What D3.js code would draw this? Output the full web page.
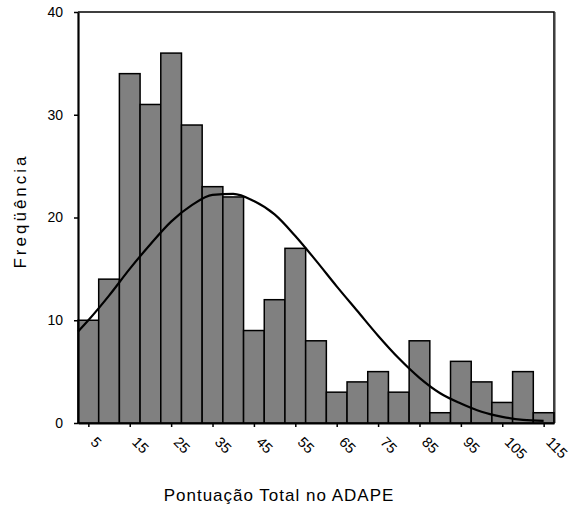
<!DOCTYPE html>
<html>
<head>
<meta charset="utf-8">
<script src="https://cdn.jsdelivr.net/npm/d3@7"></script>
<style>
    body { margin: 0; background: #fff; }
    text { font-family: "Liberation Sans", Arial, sans-serif; }
</style>
</head>
<body>
<div id="graph"></div>
<script>
// bin centres and counts
var binCenters = [5, 10, 15, 20, 25, 30, 35, 40, 45, 50, 55, 60, 65, 70, 75, 80, 85, 90, 95, 100, 105, 110, 115]
var counts = [10, 14, 34, 31, 36, 29, 23, 22, 9, 12, 17, 8, 3, 4, 5, 3, 8, 1, 6, 4, 2, 5, 1]

// normal curve, points
var curveX = [2.5, 5, 10, 15, 20, 25, 30, 35, 40, 45, 50, 55, 60, 65, 70, 75, 80, 85, 90, 95, 100, 105, 110, 115]
var curveY = [8.9, 10.0, 12.4, 15.0, 17.4, 19.6, 21.2, 22.2, 22.3, 21.6, 20.3, 18.2, 15.8, 13.3, 10.9, 8.5, 6.3, 4.4, 2.9, 1.9, 1.1, 0.6, 0.3, 0.2]

var xTicks = [5, 15, 25, 35, 45, 55, 65, 75, 85, 95, 105, 115]
var yTicks = [0, 10, 20, 30, 40]

var binWidth = 5
var xTitle = "Pontuação Total no ADAPE"
var yTitle = "Freqüência"

function draw()
{
    const width = 571, height = 506
    const plot = { left: 78, right: 554, top: 12, bottom: 423 }

    const svg = d3.select("#graph")
        .append("svg")
            .attr("width", width)
            .attr("height", height)

    const x = d3.scaleLinear().domain([2.5, 117.5]).range([plot.left, plot.right])
    const y = d3.scaleLinear().domain([0, 40]).range([plot.bottom, plot.top])

    // bars
    svg.append("g")
        .selectAll("rect")
        .data(binCenters)
        .enter().append("rect")
            .attr("x", (d) => x(d - binWidth / 2))
            .attr("width", (d) => x(d + binWidth / 2) - x(d - binWidth / 2))
            .attr("y", (d, i) => y(counts[i]))
            .attr("height", (d, i) => y(0) - y(counts[i]))
            .attr("fill", "#808080")
            .attr("stroke", "#000")
            .attr("stroke-width", 1.5)

    // fitted curve
    const line = d3.line().x(d => x(d[0])).y(d => y(d[1])).curve(d3.curveMonotoneX)
    svg.append("path")
        .datum(curveX.map((v, i) => [v, curveY[i]]))
        .attr("fill", "none")
        .attr("stroke", "#000")
        .attr("stroke-width", 2.2)
        .attr("d", line)

    // frame top + right
    svg.append("path")
        .attr("d", `M${plot.left},${plot.top}H${plot.right}V${plot.bottom}`)
        .attr("fill", "none")
        .attr("stroke", "#000")
        .attr("stroke-width", 1.5)
    svg.append("line")
        .attr("x1", plot.right + 1.5).attr("x2", plot.right + 1.5)
        .attr("y1", plot.top).attr("y2", plot.bottom)
        .attr("stroke", "#999")
        .attr("stroke-width", 1)

    // y axis
    const yAxis = svg.append("g")
        .attr("transform", `translate(${plot.left}, 0)`)
        .call(d3.axisLeft(y).tickValues(yTicks).tickSize(4).tickPadding(11).tickSizeOuter(0))
    yAxis.select(".domain").attr("stroke-width", 2.2)
    yAxis.selectAll(".tick line").attr("stroke-width", 1.5)
    yAxis.selectAll("text").attr("font-size", 14).attr("fill", "#000")
        .style("font-family", "'Liberation Sans', Arial, sans-serif")

    // x axis
    const xAxis = svg.append("g")
        .attr("transform", `translate(0, ${plot.bottom})`)
        .call(d3.axisBottom(x).tickValues(xTicks).tickSize(4).tickSizeOuter(0).tickFormat(d3.format("d")))
    xAxis.select(".domain").attr("stroke-width", 2.2)
    xAxis.selectAll(".tick line").attr("stroke-width", 1.5)
    xAxis.selectAll("text")
        .attr("font-size", 14.5)
        .attr("fill", "#000")
        .style("font-family", "'Liberation Sans', Arial, sans-serif")
        .attr("text-anchor", "start")
        .attr("dy", null)
        .attr("y", null)
        .attr("transform", "translate(1, 20) rotate(45)")

    // titles
    svg.append("text")
        .attr("x", 279)
        .attr("y", 501)
        .attr("text-anchor", "middle")
        .attr("font-size", 17)
        .attr("letter-spacing", 1)
        .text(xTitle)

    svg.append("text")
        .attr("transform", "translate(26, 211) rotate(-90)")
        .attr("text-anchor", "middle")
        .attr("font-size", 17)
        .attr("letter-spacing", 3)
        .text(yTitle)
}

draw()
</script>
</body>
</html>
